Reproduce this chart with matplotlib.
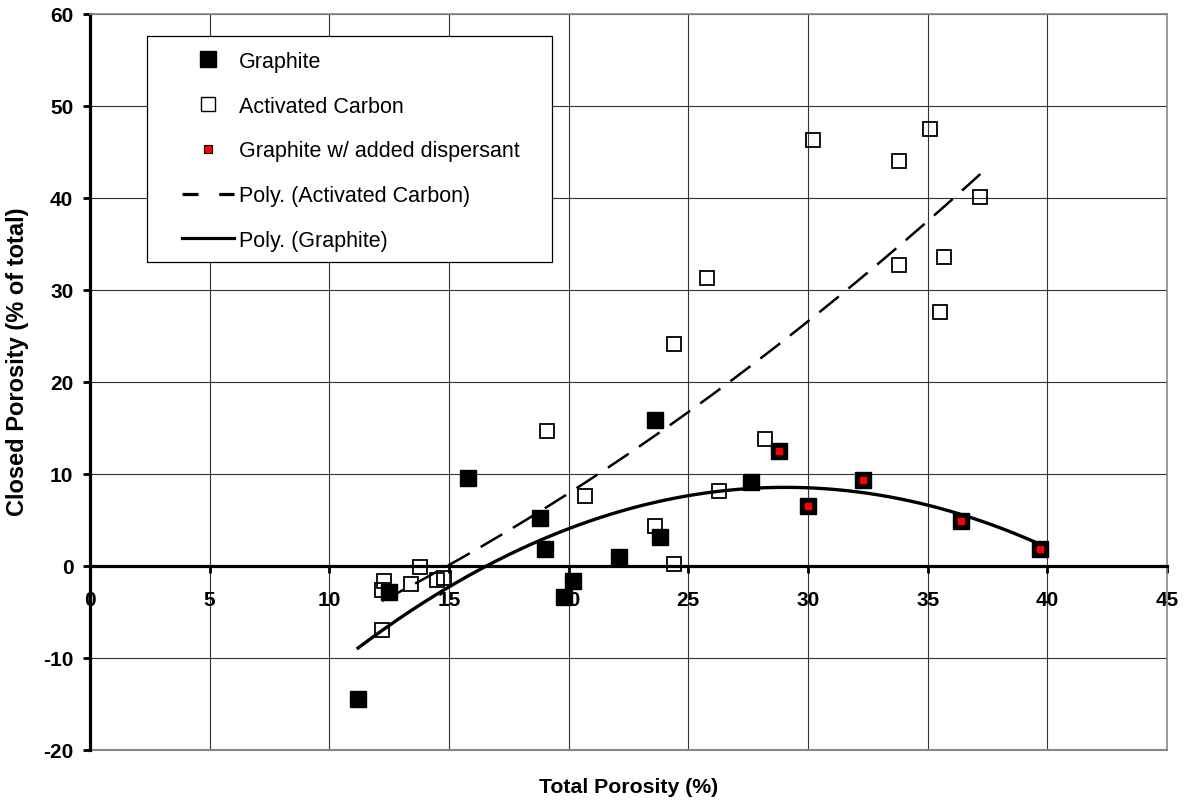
import numpy as np
import matplotlib
matplotlib.use('Agg')
import matplotlib.pyplot as plt
from matplotlib.lines import Line2D
from matplotlib.patches import Rectangle

plt.rcParams['font.family'] = ['Liberation Sans', 'DejaVu Sans']
plt.rcParams['axes.unicode_minus'] = False

# data
graphite_x = [11.2, 12.5, 15.8, 18.8, 19.0, 19.8, 20.2, 22.1, 23.6, 23.8, 27.6]
graphite_y = [-14.5, -2.8, 9.6, 5.2, 1.8, -3.4, -1.6, 1.0, 15.9, 3.2, 9.1]
disp_x = [28.8, 30.0, 32.3, 36.4, 39.7]
disp_y = [12.5, 6.5, 9.4, 4.9, 1.9]
ac_x = [12.2, 12.3, 12.2, 13.4, 13.8, 14.5, 14.8, 19.1, 20.7, 23.6, 24.4,
        24.4, 25.8, 26.3, 28.2, 30.2, 33.8, 33.8, 35.1, 35.5, 35.7, 37.2]
ac_y = [-2.6, -1.6, -7.0, -2.0, -0.1, -1.5, -1.3, 14.7, 7.6, 4.4, 0.2,
        24.1, 31.3, 8.2, 13.8, 46.3, 44.0, 32.7, 47.5, 27.6, 33.6, 40.1]

x_ticks = [0, 5, 10, 15, 20, 25, 30, 35, 40, 45]
y_ticks = [-20, -10, 0, 10, 20, 30, 40, 50, 60]

W, H = 1184, 804
fig = plt.figure(figsize=(W / 100, H / 100), dpi=100)
ax = fig.add_axes([90 / W, 1 - 751 / H, 1077 / W, 736 / H])

# polynomial (order 2) trendlines, graphite fit includes the dispersant points
g_all_x = np.array(graphite_x + disp_x)
g_all_y = np.array(graphite_y + disp_y)
pg = np.polyfit(g_all_x, g_all_y, 2)
pa = np.polyfit(ac_x, ac_y, 2)
xg = np.linspace(g_all_x.min(), g_all_x.max(), 200)
xa = np.linspace(min(ac_x), max(ac_x), 200)

ax.plot(graphite_x + disp_x, graphite_y + disp_y, 's', color='black',
        markersize=11, linestyle='none', zorder=3)
ax.plot(ac_x, ac_y, 's', markerfacecolor='none', markeredgecolor='black',
        markeredgewidth=1.3, markersize=10.5, linestyle='none', zorder=3)
ax.plot(disp_x, disp_y, 's', markerfacecolor='red', markeredgecolor='red',
        markersize=4, linestyle='none', zorder=4)
ax.plot(xa, np.polyval(pa, xa), color='black', lw=1.8, dashes=(10, 5), zorder=5)
ax.plot(xg, np.polyval(pg, xg), color='black', lw=2.4, zorder=5)

ax.set_xlim(0, 45)
ax.set_ylim(-20, 60)
ax.set_xticks(x_ticks)
ax.set_yticks(y_ticks)
ax.grid(True, color='#333333', lw=0.8, zorder=0)
ax.set_axisbelow(True)

ax.spines['bottom'].set_position(('data', 0))
ax.spines['bottom'].set_linewidth(2.3)
ax.spines['left'].set_linewidth(2.3)
for s in ['top', 'right']:
    ax.spines[s].set_color('#888888')
    ax.spines[s].set_linewidth(1.2)
ax.axhline(-20, color='#888888', lw=1.5, clip_on=False, zorder=1)

ax.tick_params(axis='x', direction='out', length=5, width=2, pad=12, labelsize=15)
ax.tick_params(axis='y', direction='out', length=5, width=2, pad=7, labelsize=15)
for lab in ax.get_xticklabels() + ax.get_yticklabels():
    lab.set_fontweight('bold')

fig.text(629 / W, 1 - 788 / H, 'Total Porosity (%)', ha='center', va='center',
         fontsize=15.3, fontweight='bold')
fig.text(18 / W, 1 - 362 / H, 'Closed Porosity (% of total)', ha='center',
         va='center', rotation=90, fontsize=17, fontweight='bold')

# legend box
ax.add_patch(Rectangle(((147 - 90) / 1077, 1 - (263 - 15) / 736),
                       (552 - 147) / 1077, (263 - 37) / 736,
                       transform=ax.transAxes, facecolor='white',
                       edgecolor='black', lw=0.9, zorder=6))
handles = [
    Line2D([], [], marker='s', color='black', linestyle='none', markersize=11),
    Line2D([], [], marker='s', markerfacecolor='none', markeredgecolor='black',
           markeredgewidth=1.0, linestyle='none', markersize=10.5),
    Line2D([], [], marker='s', markerfacecolor='red', markeredgecolor='black',
           markeredgewidth=0.8, linestyle='none', markersize=6),
    Line2D([], [], color='black', lw=2.3, dashes=(5, 6.5)),
    Line2D([], [], color='black', lw=2.3),
]
labels = ['Graphite', 'Activated Carbon', 'Graphite w/ added dispersant',
          'Poly. (Activated Carbon)', 'Poly. (Graphite)']
leg = ax.legend(handles, labels, loc='upper left',
                bbox_to_anchor=((182 - 90) / 1077, 1 - (52 - 15) / 736),
                frameon=False, fontsize=15.5, handlelength=2.4, handletextpad=0.25,
                labelspacing=1.1, borderpad=0, borderaxespad=0)
leg.set_zorder(7)

fig.savefig('out.png', dpi=100)
